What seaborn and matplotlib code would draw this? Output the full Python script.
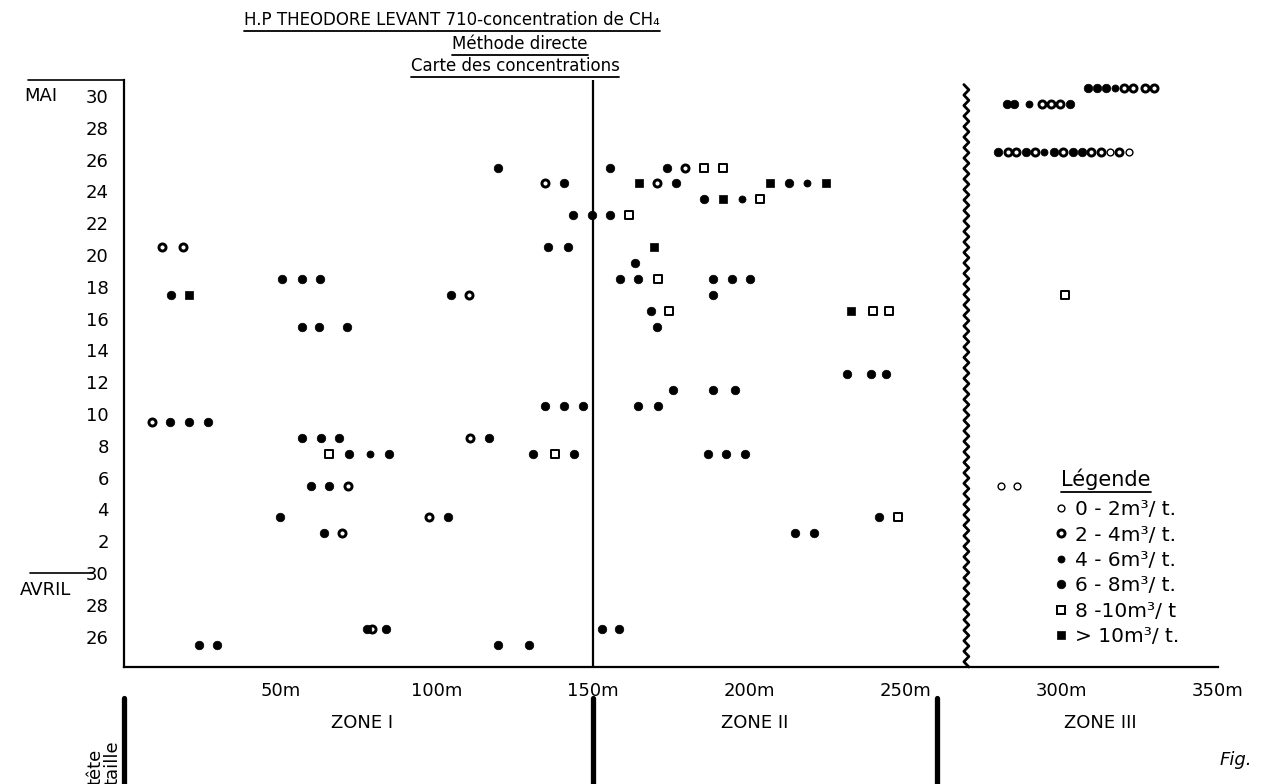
import numpy as np
import pandas as pd
import matplotlib
matplotlib.use("Agg")
import matplotlib.pyplot as plt
import seaborn as sns
from matplotlib.lines import Line2D

# ---------------- data (distance in m, day counted from 30 April) ----------------
dist_m = [
    24.0, 29.7, 77.6, 79.4, 83.8, 119.7, 129.6, 64.0, 69.6, 50.0, 97.6, 103.7,
    59.8, 65.7, 71.6, 65.7, 71.9, 78.8, 84.8, 130.9, 137.8, 143.9, 56.8, 63.0,
    68.9, 110.6, 116.8, 9.1, 14.8, 20.8, 27.0, 134.7, 140.7, 146.7, 56.8, 62.5,
    71.5, 14.9, 20.8, 104.6, 110.4, 50.6, 56.8, 62.7, 12.0, 19.0, 135.5, 141.9,
    143.6, 134.7, 140.7, 119.7,
    152.8, 158.5, 214.6, 220.7, 241.4, 247.6, 186.7, 192.5, 198.8, 164.4, 170.7,
    175.7, 188.4, 195.5, 231.3, 238.9, 243.9, 170.6, 168.6, 174.5, 232.5, 239.5,
    244.6, 188.5, 158.7, 164.5, 170.7, 188.5, 194.6, 200.4, 163.6, 169.7, 149.6,
    155.5, 161.5, 185.6, 191.5, 197.6, 203.5, 164.7, 170.6, 176.7, 206.6, 212.6,
    218.5, 224.7, 155.5, 173.7, 179.6, 185.6, 191.5,
    280.5, 285.7, 301.2,
    279.6, 282.8, 285.5, 288.7, 291.4, 294.4, 297.4, 300.4, 303.6, 306.5, 309.5,
    312.5, 315.4, 318.3, 321.5,
    282.6, 284.7, 289.5, 293.7, 296.5, 299.5, 302.5,
    308.3, 311.2, 314.2, 317.1, 320.0, 322.7, 326.6, 329.6,
]
day = [
    -4.5, -4.5, -3.5, -3.5, -3.5, -4.5, -4.5, 2.5, 2.5, 3.5, 3.5, 3.5,
    5.5, 5.5, 5.5, 7.5, 7.5, 7.5, 7.5, 7.5, 7.5, 7.5, 8.5, 8.5,
    8.5, 8.5, 8.5, 9.5, 9.5, 9.5, 9.5, 10.5, 10.5, 10.5, 15.5, 15.5,
    15.5, 17.5, 17.5, 17.5, 17.5, 18.5, 18.5, 18.5, 20.5, 20.5, 20.5, 20.5,
    22.5, 24.5, 24.5, 25.5,
    -3.5, -3.5, 2.5, 2.5, 3.5, 3.5, 7.5, 7.5, 7.5, 10.5, 10.5,
    11.5, 11.5, 11.5, 12.5, 12.5, 12.5, 15.5, 16.5, 16.5, 16.5, 16.5,
    16.5, 17.5, 18.5, 18.5, 18.5, 18.5, 18.5, 18.5, 19.5, 20.5, 22.5,
    22.5, 22.5, 23.5, 23.5, 23.5, 23.5, 24.5, 24.5, 24.5, 24.5, 24.5,
    24.5, 24.5, 25.5, 25.5, 25.5, 25.5, 25.5,
    5.5, 5.5, 17.5,
    26.5, 26.5, 26.5, 26.5, 26.5, 26.5, 26.5, 26.5, 26.5, 26.5, 26.5,
    26.5, 26.5, 26.5, 26.5,
    29.5, 29.5, 29.5, 29.5, 29.5, 29.5, 29.5,
    30.5, 30.5, 30.5, 30.5, 30.5, 30.5, 30.5, 30.5,
]
conc = [
    "6-8", "6-8", "6-8", "2-4", "6-8", "6-8", "6-8", "6-8", "2-4", "6-8", "2-4", "6-8",
    "6-8", "6-8", "2-4", "8-10", "6-8", "4-6", "6-8", "6-8", "8-10", "6-8", "6-8", "6-8",
    "6-8", "2-4", "6-8", "2-4", "6-8", "6-8", "6-8", "6-8", "6-8", "6-8", "6-8", "6-8",
    "6-8", "6-8", ">10", "6-8", "2-4", "6-8", "6-8", "6-8", "2-4", "2-4", "6-8", "6-8",
    "6-8", "2-4", "6-8", "6-8",
    "6-8", "6-8", "6-8", "6-8", "6-8", "8-10", "6-8", "6-8", "6-8", "6-8", "6-8",
    "6-8", "6-8", "6-8", "6-8", "6-8", "6-8", "6-8", "6-8", "8-10", ">10", "8-10",
    "8-10", "6-8", "6-8", "6-8", "8-10", "6-8", "6-8", "6-8", "6-8", ">10", "6-8",
    "6-8", "8-10", "6-8", ">10", "4-6", "8-10", ">10", "2-4", "6-8", ">10", "6-8",
    "4-6", ">10", "6-8", "6-8", "2-4", "8-10", "8-10",
    "0-2", "0-2", "8-10",
    "6-8", "2-4", "2-4", "6-8", "2-4", "4-6", "6-8", "2-4", "6-8", "6-8", "2-4",
    "2-4", "0-2", "2-4", "0-2",
    "6-8", "6-8", "4-6", "2-4", "2-4", "2-4", "6-8",
    "6-8", "6-8", "6-8", "4-6", "2-4", "2-4", "2-4", "2-4",
]

classes = ["0-2", "2-4", "4-6", "6-8", "8-10", ">10"]
legend_labels = ["0 - 2m³/ t.", "2 - 4m³/ t.", "4 - 6m³/ t.", "6 - 8m³/ t.",
                 "8 -10m³/ t", "> 10m³/ t."]
x_ticks = [50, 100, 150, 200, 250, 300, 350]
x_ticklabels = ["50m", "100m", "150m", "200m", "250m", "300m", "350m"]
y_ticks = [-4, -2, 0, 2, 4, 6, 8, 10, 12, 14, 16, 18, 20, 22, 24, 26, 28, 30]
y_ticklabels = ["26", "28", "30", "2", "4", "6", "8", "10", "12", "14", "16",
                "18", "20", "22", "24", "26", "28", "30"]

df = pd.DataFrame({"dist": dist_m, "day": day, "conc": conc})

# marker styles per class
style = {
    "0-2": dict(marker="o", s=24, facecolor="white", edgecolor="black", linewidth=1.0),
    "2-4": dict(marker="o", s=26, facecolor="white", edgecolor="black", linewidth=2.1),
    "4-6": dict(marker="o", s=26, facecolor="black", edgecolor="black", linewidth=0.5),
    "6-8": dict(marker="o", s=38, facecolor="black", edgecolor="black", linewidth=0.5),
    "8-10": dict(marker="s", s=28, facecolor="white", edgecolor="black", linewidth=1.4),
    ">10": dict(marker="s", s=32, facecolor="black", edgecolor="black", linewidth=0.5),
}

sns.set_theme(style="white")
plt.rcParams["font.family"] = ["DejaVu Sans"]
plt.rcParams["text.color"] = "black"

W, H = 1266, 784
fig = plt.figure(figsize=(W / 100, H / 100), dpi=100)


def fx(px):
    return px / W


def fy(py):
    return 1 - py / H


X0, X1, YT, YB = 124, 1218, 80, 667
ax = fig.add_axes([fx(X0), fy(YB), (X1 - X0) / W, (YB - YT) / H])

for c in classes:
    sub = df[df["conc"] == c]
    sns.scatterplot(data=sub, x="dist", y="day", ax=ax, legend=False,
                    color="black", zorder=4, clip_on=False, **style[c])

ax.set_xlim(0, 350)
ax.set_ylim(30 - (YB - 96) / 15.9, 30 + (96 - YT) / 15.9)
ax.set_xticks(x_ticks)
ax.set_xticklabels(x_ticklabels)
ax.set_yticks(y_ticks)
ax.set_yticklabels(y_ticklabels)
ax.set_xlabel("")
ax.set_ylabel("")
ax.tick_params(axis="both", direction="out", length=8, width=1.2,
               labelsize=13, pad=3, colors="black")
for side in ["top", "right"]:
    ax.spines[side].set_visible(False)
for side in ["left", "bottom"]:
    ax.spines[side].set_color("black")
    ax.spines[side].set_linewidth(1.6)
ax.set_facecolor("white")

# zone boundary at 150 m
ax.axvline(150, color="black", lw=1.6, zorder=2)
# broken (wavy) line at ~270 m
ylo, yhi = ax.get_ylim()
zz_y = np.arange(ylo, yhi + 0.01, 0.33)
zz_x = 269.5 + 0.8 * (-1) ** np.arange(len(zz_y))
ax.plot(zz_x, zz_y, color="black", lw=2.0, zorder=2, clip_on=False)

# month labels and separators
fig.text(fx(24), fy(96), "MAI", ha="left", va="center", fontsize=13)
fig.text(fx(20), fy(590), "AVRIL", ha="left", va="center", fontsize=13)
fig.add_artist(Line2D([fx(28), fx(X0)], [fy(YT), fy(YT)], color="black", lw=1.2))
fig.add_artist(Line2D([fx(30), fx(93)], [fy(573), fy(573)], color="black", lw=1.2))

# titles (underlined)
titles = [("H.P THEODORE LEVANT 710-concentration de CH₄", 452, 20),
          ("Méthode directe", 520, 44),
          ("Carte des concentrations", 515, 66)]
title_objs = []
for txt, cx, cy in titles:
    t = fig.text(fx(cx), fy(cy), txt, ha="center", va="center", fontsize=12)
    title_objs.append(t)

# bottom zone bars and labels
for px in [124, 593, 937]:
    fig.add_artist(Line2D([fx(px), fx(px)], [fy(698), fy(784)], color="black", lw=3.8))
fig.text(fx(362), fy(723), "ZONE I", ha="center", va="center", fontsize=13)
fig.text(fx(755), fy(723), "ZONE II", ha="center", va="center", fontsize=13)
fig.text(fx(1100), fy(723), "ZONE III", ha="center", va="center", fontsize=13)
fig.text(fx(95), fy(785), "tête", rotation=90, ha="center", va="bottom", fontsize=13)
fig.text(fx(113), fy(785), "taille", rotation=90, ha="center", va="bottom", fontsize=13)
fig.text(fx(1236), fy(760), "Fig.", ha="center", va="center", fontsize=13, style="italic")

# legend
leg_title = fig.text(fx(1061), fy(479), "Légende", ha="left", va="center",
                     fontsize=15)
handles = [Line2D([], [], linestyle="none", marker=style[c]["marker"],
                  markersize=np.sqrt(style[c]["s"]),
                  markerfacecolor=style[c]["facecolor"],
                  markeredgecolor="black",
                  markeredgewidth=style[c]["linewidth"]) for c in classes]
leg = ax.legend(handles, legend_labels, frameon=False,
                loc="upper left", bbox_to_anchor=(fx(1043), fy(490)),
                bbox_transform=fig.transFigure, fontsize=14.5,
                handlelength=0.8, handletextpad=0.3, labelspacing=0.32,
                borderpad=0, labelcolor="black")

fig.canvas.draw()
r = fig.canvas.get_renderer()
for t in title_objs + [leg_title]:
    bb = t.get_window_extent(r)
    yl = bb.y0 - 2
    fig.add_artist(Line2D([bb.x0 / W, bb.x1 / W], [yl / H, yl / H], color="black", lw=1.3))

fig.savefig("out.png", dpi=100, facecolor="white")
